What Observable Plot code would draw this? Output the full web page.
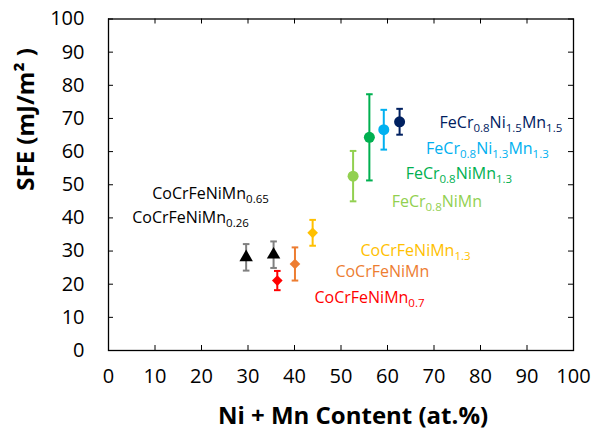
<!DOCTYPE html>
<html><head><meta charset="utf-8">
<script src="https://cdn.jsdelivr.net/npm/d3@7"></script>
<script src="https://cdn.jsdelivr.net/npm/@observablehq/plot@0.6"></script>
<style>body{margin:0;background:#fff}</style>
</head><body><div id="chart"></div>
<script>
// ---- data ----
const alloys = ["CoCrFeNiMn0.26","CoCrFeNiMn0.65","CoCrFeNiMn0.7","CoCrFeNiMn","CoCrFeNiMn1.3","FeCr0.8NiMn","FeCr0.8NiMn1.3","FeCr0.8Ni1.3Mn1.3","FeCr0.8Ni1.5Mn1.5"];
const labelText = ["CoCrFeNiMn_{0.26}","CoCrFeNiMn_{0.65}","CoCrFeNiMn_{0.7}","CoCrFeNiMn","CoCrFeNiMn_{1.3}","FeCr_{0.8}NiMn","FeCr_{0.8}NiMn_{1.3}","FeCr_{0.8}Ni_{1.3}Mn_{1.3}","FeCr_{0.8}Ni_{1.5}Mn_{1.5}"];
const family = ["A","A","B","B","B","C","C","C","C"];
const niMn = [29.6, 35.5, 36.3, 40.1, 43.9, 52.6, 56.1, 59.2, 62.6];
const sfe = [28.1, 28.9, 21.1, 26.1, 35.5, 52.6, 64.3, 66.6, 69.0];
const sfeErr = [4, 4, 2.9, 5, 3.9, 7.6, 13, 6, 3.9];
const labelX = [5.1, 9.4, 44.3, 48.8, 54.2, 60.9, 63.9, 68.3, 71.2];
const labelY = [39.9, 47.1, 15.9, 23.6, 30.2, 44.9, 53.2, 60.9, 68.7];
const xTicks = [0,10,20,30,40,50,60,70,80,90,100];
const yTicks = [0,10,20,30,40,50,60,70,80,90,100];
const colors = ["#000000","#000000","#FF0000","#ED7D31","#FFC000","#92D050","#00B050","#00B0F0","#002060"];

// ---- layout ----
const W = 595, H = 443;
const mL = 108, mR = 22, mT = 18.5, mB = 93;
const innerW = W - mL - mR, innerH = H - mT - mB;

const rows = alloys.map((a, i) => ({
  alloy: a, family: family[i], x: niMn[i], y: sfe[i],
  lo: sfe[i] - sfeErr[i], hi: sfe[i] + sfeErr[i],
  label: labelText[i], lx: labelX[i], ly: labelY[i]
}));
const famA = rows.filter(d => d.family === "A");
const famB = rows.filter(d => d.family === "B");
const famC = rows.filter(d => d.family === "C");
const notA = rows.filter(d => d.family !== "A");

const cap = {draw(ctx, size) { const w = Math.sqrt(size / Math.PI); ctx.moveTo(-w, 0); ctx.lineTo(w, 0); }};

const chart = Plot.plot({
  width: W, height: H,
  marginLeft: mL, marginRight: mR, marginTop: mT, marginBottom: mB,
  style: {fontFamily: "'Open Sans', sans-serif", fontSize: "20px", color: "#000", background: "#fff"},
  x: {domain: [0, 100]},
  y: {domain: [0, 100]},
  color: {domain: alloys, range: colors},
  marks: [
    Plot.frame({stroke: "#000", strokeWidth: 1.3}),
    Plot.tickX(xTicks, {x: d => d, insetTop: innerH - 5, stroke: "#000"}),
    Plot.tickX(xTicks, {x: d => d, insetBottom: innerH - 5, stroke: "#000"}),
    Plot.tickY(yTicks, {y: d => d, insetRight: innerW - 5, stroke: "#000"}),
    Plot.tickY(yTicks, {y: d => d, insetLeft: innerW - 5, stroke: "#000"}),
    Plot.axisX({ticks: xTicks, tickSize: 0, tickPadding: 18, label: null, tickFormat: d => d}),
    Plot.axisY({ticks: yTicks, tickSize: 0, tickPadding: 24, label: null, tickFormat: d => d}),
    // error bars
    Plot.ruleX(famA, {x: "x", y1: "lo", y2: "hi", stroke: "#808080", strokeWidth: 2}),
    Plot.dot(famA, {x: "x", y: "lo", symbol: cap, r: 3.3, stroke: "#808080", strokeWidth: 2, fill: "none"}),
    Plot.dot(famA, {x: "x", y: "hi", symbol: cap, r: 3.3, stroke: "#808080", strokeWidth: 2, fill: "none"}),
    Plot.ruleX(notA, {x: "x", y1: "lo", y2: "hi", stroke: "alloy", strokeWidth: 2}),
    Plot.dot(notA, {x: "x", y: "lo", symbol: cap, r: 3.3, stroke: "alloy", strokeWidth: 2, fill: "none"}),
    Plot.dot(notA, {x: "x", y: "hi", symbol: cap, r: 3.3, stroke: "alloy", strokeWidth: 2, fill: "none"}),
    // markers
    Plot.dot(famA, {x: "x", y: "y", symbol: "triangle", r: 5, fill: "alloy"}),
    Plot.dot(famB, {x: "x", y: "y", symbol: "diamond2", r: 4.8, fill: "alloy"}),
    Plot.dot(famC, {x: "x", y: "y", symbol: "circle", r: 5.5, fill: "alloy"}),
    // labels
    Plot.text(rows, {x: "lx", y: "ly", text: "label", fill: "alloy", textAnchor: "start", fontSize: 16}),
    // axis titles
    Plot.text(["Ni + Mn Content (at.%)"], {text: d => d, frameAnchor: "bottom", dy: 73, dx: 12, fontWeight: "bold", fontSize: 24}),
    Plot.text(["SFE (mJ/m² )"], {text: d => d, frameAnchor: "left", rotate: -90, dx: -82, dy: 6, fontWeight: "bold", fontSize: 24})
  ]
});

// subscripts
d3.select(chart).selectAll("text").each(function() {
  const t = d3.select(this);
  const s = t.text();
  if (!s.includes("_{")) return;
  t.text("");
  const parts = s.split(/(_\{[^}]*\})/).filter(p => p);
  let shifted = false;
  parts.forEach(p => {
    if (p.startsWith("_{")) {
      const ts = t.append("tspan").attr("font-size", "11.5px").text(p.slice(2, -1));
      if (!shifted) ts.attr("dy", "4");
      shifted = true;
    } else {
      const ts = t.append("tspan").text(p);
      if (shifted) { ts.attr("dy", "-4"); shifted = false; }
    }
  });
});

document.getElementById("chart").appendChild(chart);
</script>
</body></html>
